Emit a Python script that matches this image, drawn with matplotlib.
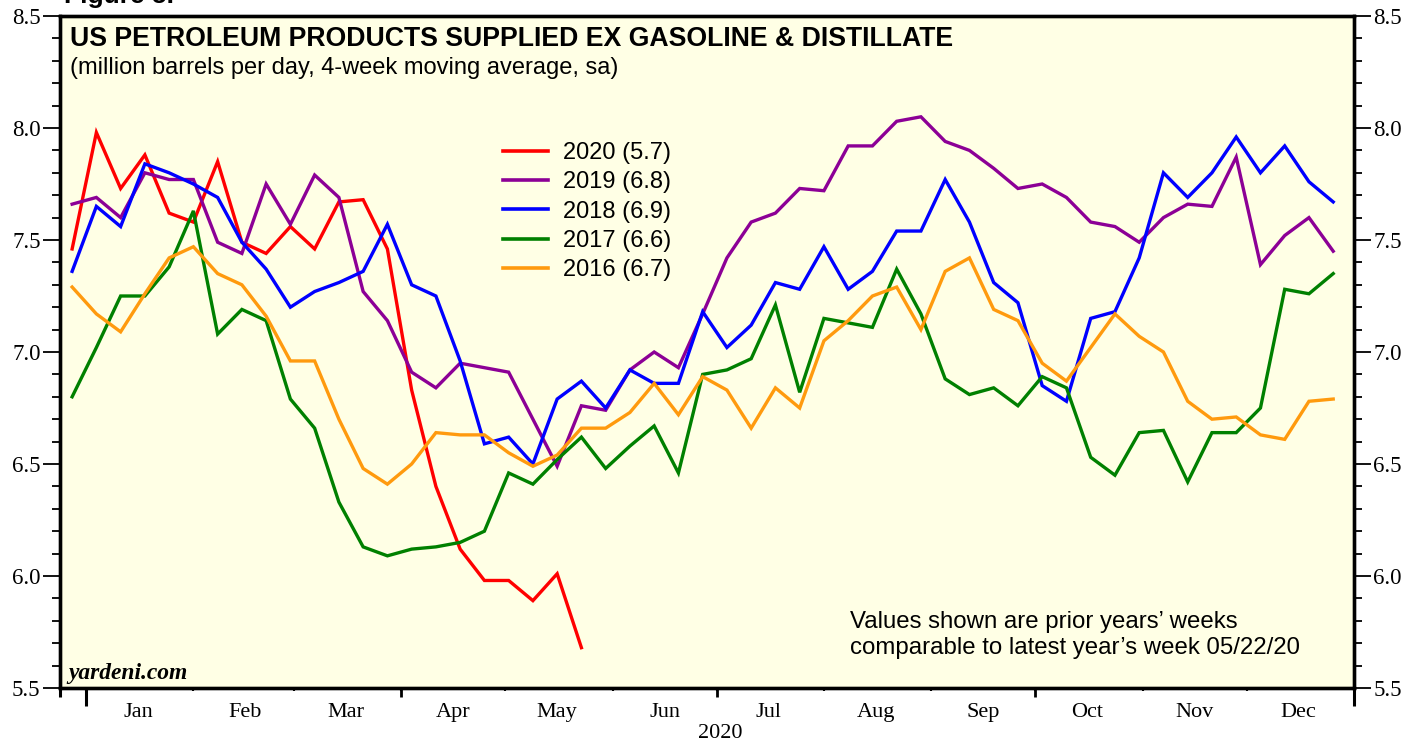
import numpy as np
import pandas as pd
import matplotlib
matplotlib.use("Agg")
import matplotlib.pyplot as plt
import matplotlib.dates as mdates

# weekly dates (4-wk moving average, sa), aligned to 2020 calendar
weeks = pd.date_range("2019-12-28", periods=53, freq="7D")

y2020 = [7.46, 7.98, 7.73, 7.88, 7.62, 7.58, 7.85, 7.49, 7.44, 7.56, 7.46,
         7.67, 7.68, 7.46, 6.83, 6.40, 6.12, 5.98, 5.98, 5.89, 6.01, 5.68]
y2019 = [7.66, 7.69, 7.60, 7.80, 7.77, 7.77, 7.49, 7.44, 7.75, 7.57, 7.79,
         7.69, 7.27, 7.14, 6.91, 6.84, 6.95, 6.93, 6.91, 6.70, 6.49, 6.76,
         6.74, 6.92, 7.00, 6.93, 7.17, 7.42, 7.58, 7.62, 7.73, 7.72, 7.92,
         7.92, 8.03, 8.05, 7.94, 7.90, 7.82, 7.73, 7.75, 7.69, 7.58, 7.56,
         7.49, 7.60, 7.66, 7.65, 7.87, 7.39, 7.52, 7.60, 7.45]
y2018 = [7.36, 7.65, 7.56, 7.84, 7.80, 7.75, 7.69, 7.49, 7.37, 7.20, 7.27,
         7.31, 7.36, 7.57, 7.30, 7.25, 6.96, 6.59, 6.62, 6.50, 6.79, 6.87,
         6.75, 6.92, 6.86, 6.86, 7.18, 7.02, 7.12, 7.31, 7.28, 7.47, 7.28,
         7.36, 7.54, 7.54, 7.77, 7.58, 7.31, 7.22, 6.85, 6.78, 7.15, 7.18,
         7.42, 7.80, 7.69, 7.80, 7.96, 7.80, 7.92, 7.76, 7.67]
y2017 = [6.80, 7.02, 7.25, 7.25, 7.38, 7.63, 7.08, 7.19, 7.14, 6.79, 6.66,
         6.33, 6.13, 6.09, 6.12, 6.13, 6.15, 6.20, 6.46, 6.41, 6.52, 6.62,
         6.48, 6.58, 6.67, 6.46, 6.90, 6.92, 6.97, 7.21, 6.82, 7.15, 7.13,
         7.11, 7.37, 7.17, 6.88, 6.81, 6.84, 6.76, 6.89, 6.84, 6.53, 6.45,
         6.64, 6.65, 6.42, 6.64, 6.64, 6.75, 7.28, 7.26, 7.35]
y2016 = [7.29, 7.17, 7.09, 7.26, 7.42, 7.47, 7.35, 7.30, 7.16, 6.96, 6.96,
         6.70, 6.48, 6.41, 6.50, 6.64, 6.63, 6.63, 6.55, 6.49, 6.54, 6.66,
         6.66, 6.73, 6.86, 6.72, 6.89, 6.83, 6.66, 6.84, 6.75, 7.05, 7.14,
         7.25, 7.29, 7.10, 7.36, 7.42, 7.19, 7.14, 6.95, 6.87, 7.02, 7.17,
         7.07, 7.00, 6.78, 6.70, 6.71, 6.63, 6.61, 6.78, 6.79]

series = [
    ("2020 (5.7)", y2020, "#ff0000"),
    ("2019 (6.8)", y2019, "#8c0096"),
    ("2018 (6.9)", y2018, "#0000ff"),
    ("2017 (6.6)", y2017, "#008000"),
    ("2016 (6.7)", y2016, "#ff9a0e"),
]

month_labels = ["Jan", "Feb", "Mar", "Apr", "May", "Jun",
                "Jul", "Aug", "Sep", "Oct", "Nov", "Dec"]

W, H = 1419, 742
fig = plt.figure(figsize=(W / 100, H / 100), dpi=100)
ax = fig.add_axes([60 / W, 1 - 688 / H, (1354 - 60) / W, (688 - 16) / H])
ax.set_facecolor("#ffffe5")

for label, vals, color in series:
    ax.plot(weeks[:len(vals)], vals, color=color, lw=2.4, label=label,
            solid_joinstyle="miter")

ax.set_ylim(5.5, 8.5)
ax.set_xlim(pd.Timestamp("2019-12-24 12:00"), pd.Timestamp("2021-01-01"))

serif = "Liberation Serif"
sans = "Liberation Sans"

# y axes (both sides)
ax2 = ax.twinx()
ax2.set_ylim(5.5, 8.5)
for a in (ax, ax2):
    a.yaxis.set_major_locator(plt.MultipleLocator(0.5))
    a.yaxis.set_minor_locator(plt.MultipleLocator(0.1))
    a.yaxis.set_major_formatter(plt.FormatStrFormatter("%.1f"))
    a.tick_params(axis="y", which="major", length=12, width=1.3,
                  direction="out", labelsize=16.5, pad=2)
    a.tick_params(axis="y", which="minor", length=6, width=1.3,
                  direction="out")
    for t in a.get_yticklabels():
        t.set_fontfamily(serif)
for s in list(ax.spines.values()) + list(ax2.spines.values()):
    s.set_linewidth(2.4)

# x axis: short ticks at month starts, labels mid-month
month_starts = pd.date_range("2020-01-01", periods=12, freq="MS")
ax.set_xticks(month_starts)
ax.set_xticklabels([])
ax.tick_params(axis="x", which="major", length=2.5, width=1.5, direction="out")
mid = month_starts + pd.Timedelta(days=15)
ax.set_xticks(mid, minor=True)
ax.set_xticklabels(month_labels, minor=True, fontfamily=serif, fontsize=16)
ax.tick_params(axis="x", which="minor", length=0, pad=11)

# longer quarter / year ticks
xt = ax.get_xaxis_transform()
quarters = pd.to_datetime(["2020-04-01", "2020-07-01", "2020-10-01"])
ax.vlines(quarters, -9 / 672, 0, transform=xt, colors="black", lw=2,
          clip_on=False)
years = pd.to_datetime(["2020-01-01", "2021-01-01"])
ax.vlines(years, -18 / 672, 0, transform=xt, colors="black", lw=2.2,
          clip_on=False)
ax.vlines([ax.get_xlim()[0]], -9 / 672, 0, transform=xt, colors="black",
          lw=2.2, clip_on=False)

ax.text(pd.Timestamp("2020-07-02"), -46 / 672, "2020", transform=xt,
        ha="center", va="center", fontfamily=serif, fontsize=16)

# titles
fig.text(70 / W, 1 - 46 / H, "US PETROLEUM PRODUCTS SUPPLIED EX GASOLINE & DISTILLATE",
         fontfamily=sans, fontweight="bold", fontsize=19.2, va="baseline")
fig.text(70 / W, 1 - 74 / H, "(million barrels per day, 4-week moving average, sa)",
         fontfamily=sans, fontsize=17, va="baseline")
fig.text(64 / W, 1 - 3 / H, "Figure 5.", fontfamily=sans, fontweight="bold",
         fontsize=19, va="baseline")

# legend
leg = ax.legend(loc="upper left", bbox_to_anchor=(503 / W, 1 - 142 / H),
                bbox_transform=fig.transFigure, frameon=False,
                prop={"family": sans, "size": 17}, handlelength=1.9,
                handletextpad=0.64, labelspacing=0.31, borderpad=0,
                borderaxespad=0)
for line in leg.get_lines():
    line.set_linewidth(2.6)

fig.text(850 / W, 1 - 635 / H,
         "Values shown are prior years\u2019 weeks\ncomparable to latest year\u2019s week 05/22/20",
         fontfamily=sans, fontsize=17.3, va="center", linespacing=1.22)

fig.text(68 / W, 1 - 673 / H, "yardeni.com", fontfamily=serif,
         fontweight="bold", fontstyle="italic", fontsize=16.9, va="center")

fig.savefig("out.png", dpi=100, facecolor="white")
